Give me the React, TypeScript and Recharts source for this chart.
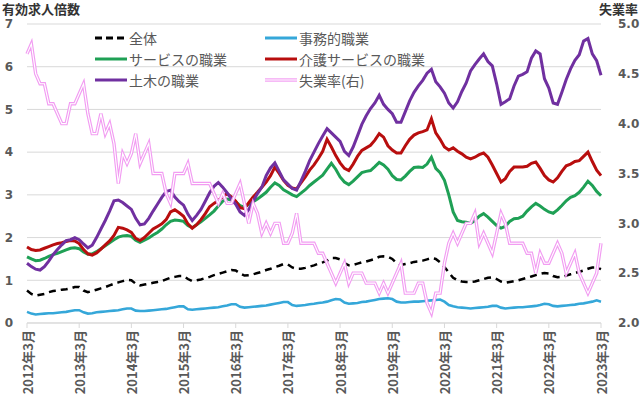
import { CartesianGrid, Line, LineChart, XAxis, YAxis } from "recharts";

const JP = '"Noto Sans CJK JP", "Noto Sans", sans-serif';
const NUM = '"DejaVu Sans", sans-serif';
const GRAY = "#595959";

const START_YEAR = 2012;
const START_MONTH = 3;

// 全体 (2012年3月 .. 2023年3月, monthly)
const TOTAL = [
  0.76, 0.68, 0.64, 0.66, 0.68, 0.72, 0.75, 0.76, 0.78, 0.79, 0.81, 0.84,
  0.84, 0.76, 0.72, 0.75, 0.78, 0.81, 0.84, 0.88, 0.92, 0.95, 0.98, 1.01,
  1.0, 0.92, 0.88, 0.9, 0.92, 0.94, 0.96, 0.98, 1.02, 1.06, 1.08, 1.1,
  1.1, 1.03, 0.98, 1.0, 1.02, 1.05, 1.08, 1.12, 1.15, 1.18, 1.21, 1.24,
  1.23, 1.16, 1.11, 1.12, 1.14, 1.17, 1.2, 1.24, 1.27, 1.31, 1.34, 1.38,
  1.37, 1.3, 1.27, 1.27, 1.29, 1.32, 1.35, 1.39, 1.42, 1.46, 1.52, 1.52,
  1.49, 1.4, 1.35, 1.36, 1.39, 1.42, 1.44, 1.47, 1.5, 1.55, 1.56, 1.55,
  1.5, 1.4, 1.36, 1.38, 1.4, 1.43, 1.44, 1.46, 1.49, 1.52, 1.5, 1.42,
  1.31, 1.18, 1.06, 1.0, 0.97, 0.96, 0.96, 0.97, 1.0, 1.03, 1.06, 1.07,
  1.03, 0.97, 0.94, 0.96, 0.98, 1.0, 1.03, 1.06, 1.09, 1.12, 1.15, 1.17,
  1.16, 1.1, 1.07, 1.08, 1.11, 1.14, 1.17, 1.2, 1.23, 1.27, 1.3, 1.3,
  1.26,
];

// 事務的職業
const CLERICAL = [
  0.26, 0.22, 0.2, 0.21, 0.22, 0.23, 0.23, 0.24, 0.25, 0.26, 0.28, 0.3,
  0.3, 0.25, 0.22, 0.23, 0.25, 0.26, 0.27, 0.28, 0.29, 0.3, 0.32, 0.34,
  0.34, 0.29, 0.28, 0.28, 0.29, 0.3, 0.31, 0.32, 0.33, 0.35, 0.37, 0.39,
  0.39, 0.32, 0.31, 0.32, 0.33, 0.34, 0.35, 0.36, 0.37, 0.39, 0.41, 0.44,
  0.44, 0.38, 0.36, 0.37, 0.38, 0.39, 0.4, 0.41, 0.43, 0.45, 0.47, 0.49,
  0.49, 0.42, 0.4, 0.41, 0.42, 0.44, 0.45, 0.47, 0.48, 0.5, 0.53, 0.56,
  0.55, 0.48, 0.45, 0.46, 0.47, 0.49, 0.5, 0.52, 0.54, 0.56, 0.57, 0.58,
  0.56, 0.5, 0.48, 0.48, 0.49, 0.5, 0.5, 0.51, 0.52, 0.53, 0.54, 0.55,
  0.5, 0.42, 0.39, 0.37, 0.36, 0.35, 0.34, 0.35, 0.36, 0.37, 0.38, 0.4,
  0.4, 0.36, 0.34, 0.35, 0.36, 0.37, 0.37, 0.38, 0.39, 0.4, 0.42, 0.45,
  0.44, 0.4, 0.39, 0.4, 0.41, 0.42, 0.43, 0.45, 0.46, 0.48, 0.5, 0.53,
  0.5,
];

// サービスの職業
const SERVICE = [
  1.55, 1.5, 1.46, 1.47, 1.51, 1.56, 1.6, 1.63, 1.67, 1.71, 1.75, 1.76,
  1.74, 1.66, 1.61, 1.62, 1.67, 1.74, 1.81, 1.88, 1.95, 2.01, 2.04, 2.05,
  2.03, 1.94, 1.89, 1.94, 1.99, 2.06, 2.12, 2.2, 2.3, 2.38, 2.41, 2.4,
  2.38, 2.28, 2.23, 2.3, 2.37, 2.45, 2.53, 2.62, 2.74, 2.85, 2.9, 2.88,
  2.84, 2.75, 2.71, 2.78, 2.84, 2.9, 2.98, 3.06, 3.18, 3.28, 3.22, 3.12,
  3.06, 3.0, 2.96, 3.04, 3.12, 3.22, 3.3, 3.38, 3.46, 3.6, 3.74, 3.6,
  3.42, 3.3, 3.24, 3.32, 3.42, 3.52, 3.55, 3.57, 3.66, 3.76, 3.7, 3.6,
  3.45, 3.36, 3.35, 3.44, 3.55, 3.64, 3.65, 3.64, 3.72, 3.88, 3.62, 3.52,
  3.34, 3.0, 2.6, 2.4, 2.37, 2.36, 2.33, 2.4, 2.5, 2.56, 2.48, 2.38,
  2.28, 2.22, 2.26, 2.38, 2.44, 2.45, 2.5, 2.62, 2.72, 2.8, 2.74, 2.66,
  2.6, 2.57, 2.65, 2.75, 2.86, 2.94, 2.98, 3.06, 3.18, 3.32, 3.22, 3.08,
  2.98,
];

// 介護サービスの職業
const CARE = [
  1.78, 1.72, 1.7, 1.71, 1.75, 1.79, 1.83, 1.86, 1.88, 1.91, 1.93, 1.92,
  1.86, 1.72, 1.62, 1.59, 1.64, 1.73, 1.83, 1.92, 2.05, 2.24, 2.22, 2.18,
  2.12, 1.98, 1.93, 2.0, 2.1, 2.2, 2.26, 2.32, 2.42, 2.6, 2.65, 2.58,
  2.5, 2.32, 2.22, 2.3, 2.42, 2.56, 2.72, 2.8, 2.87, 2.95, 3.03, 2.95,
  2.85, 2.7, 2.68, 2.82, 2.95, 3.06, 3.18, 3.3, 3.45, 3.65, 3.5, 3.34,
  3.22, 3.16, 3.14, 3.28, 3.42, 3.58, 3.7, 3.85, 4.02, 4.3, 4.12, 3.92,
  3.75, 3.62, 3.57, 3.72, 3.9, 4.04, 4.1, 4.16, 4.28, 4.43, 4.35, 4.15,
  4.05, 3.98, 3.98, 4.15, 4.3, 4.4, 4.45, 4.48, 4.52, 4.78, 4.45, 4.3,
  4.12, 4.05, 4.1, 4.02, 3.96, 3.88, 3.84, 3.88, 3.94, 3.98, 3.88, 3.7,
  3.5, 3.3, 3.38, 3.55, 3.65, 3.65, 3.65, 3.67, 3.74, 3.77, 3.62, 3.45,
  3.35, 3.3, 3.4, 3.55, 3.68, 3.72, 3.78, 3.8, 3.9, 4.0, 3.78, 3.58,
  3.45,
];

// 土木の職業
const CIVIL = [
  1.4, 1.32, 1.26, 1.24, 1.32, 1.45, 1.6, 1.72, 1.83, 1.93, 1.95, 2.0,
  1.95, 1.85, 1.76, 1.82, 2.0, 2.2, 2.4, 2.62, 2.86, 2.88, 2.82, 2.74,
  2.66, 2.45, 2.3, 2.32, 2.45, 2.62, 2.78, 2.94, 3.08, 3.11, 2.95, 2.84,
  2.76, 2.55, 2.4, 2.52, 2.66, 2.85, 3.05, 3.2, 3.29, 3.18, 3.05, 2.9,
  2.78, 2.6, 2.52, 2.66, 2.85, 3.03, 3.18, 3.45, 3.63, 3.75, 3.55, 3.35,
  3.25, 3.15, 3.11, 3.32, 3.55, 3.8, 4.0, 4.2, 4.38, 4.55, 4.45, 4.35,
  4.25, 4.02, 3.92, 4.12, 4.38, 4.65, 4.85, 5.02, 5.15, 5.33, 5.12, 5.0,
  4.9, 4.7, 4.7, 4.95, 5.2, 5.4, 5.55, 5.68, 5.85, 5.94, 5.65, 5.53,
  5.38, 5.15, 5.03, 5.18, 5.42, 5.62, 5.9, 6.05, 6.18, 6.3, 6.12, 6.02,
  5.6, 5.12, 5.18, 5.25, 5.55, 5.78, 5.82, 5.88, 6.2, 6.37, 6.3, 5.72,
  5.5, 5.15, 5.12, 5.4, 5.7, 5.95, 6.15, 6.28, 6.6, 6.66, 6.3, 6.14,
  5.8,
];

// 失業率 (右軸)
const UNEMPLOYMENT = [
  4.7, 4.8, 4.5, 4.4, 4.4, 4.2, 4.2, 4.1, 4.0, 4.0, 4.2, 4.2,
  4.3, 4.4, 4.1, 3.9, 3.9, 4.1, 3.9, 4.0, 3.8, 3.4, 3.7, 3.6,
  3.7, 3.9, 3.6, 3.7, 3.8, 3.5, 3.5, 3.5, 3.3, 3.2, 3.5, 3.5,
  3.5, 3.6, 3.4, 3.4, 3.4, 3.4, 3.4, 3.3, 3.2, 3.3, 3.2, 3.2,
  3.3, 3.4, 3.2, 3.0, 3.2, 3.1, 2.9, 3.0, 2.9, 3.0, 3.0, 2.8,
  2.8, 2.9, 3.1, 2.8, 2.8, 2.8, 2.8, 2.7, 2.7, 2.6, 2.5, 2.4,
  2.5, 2.6, 2.4, 2.5, 2.5, 2.5, 2.4, 2.4, 2.4, 2.3, 2.4, 2.3,
  2.4, 2.5, 2.6, 2.3, 2.3, 2.3, 2.4, 2.4, 2.2, 2.1, 2.3, 2.3,
  2.6, 2.8, 2.9, 2.8, 2.9, 3.0, 3.0, 3.1, 2.8, 2.9, 2.8, 2.7,
  2.9, 3.1, 3.0, 2.8, 2.8, 2.8, 2.8, 2.7, 2.7, 2.5, 2.7, 2.6,
  2.6, 2.7, 2.8, 2.7, 2.5, 2.6, 2.7, 2.5, 2.4, 2.3, 2.4, 2.5,
  2.8,
];

const MONTHS = TOTAL.map((_, i) => {
  const m = START_MONTH - 1 + i;
  return `${START_YEAR + Math.floor(m / 12)}年${(m % 12) + 1}月`;
});

const LEFT_TICKS = [0, 1, 2, 3, 4, 5, 6, 7];
const RIGHT_TICKS = [2.0, 2.5, 3.0, 3.5, 4.0, 4.5, 5.0];

const data = MONTHS.map((month, i) => ({
  month,
  total: TOTAL[i],
  clerical: CLERICAL[i],
  service: SERVICE[i],
  care: CARE[i],
  civil: CIVIL[i],
  unemployment: UNEMPLOYMENT[i],
}));

const COLORS = {
  total: "#000000",
  clerical: "#35A7D9",
  service: "#1FA055",
  care: "#B80E0E",
  civil: "#7030A0",
  unemployment: "#F29CF2",
};

function MonthTick({ x, y, payload }: any) {
  return (
    <text
      x={x}
      y={y}
      transform={`rotate(-90, ${x}, ${y})`}
      textAnchor="end"
      dominantBaseline="central"
      fill={GRAY}
      fontSize={13}
      fontWeight={700}
      fontFamily={JP}
    >
      {payload.value}
    </text>
  );
}

function LegendItem({
  x,
  y,
  label,
  color,
  dashed,
  double,
}: {
  x: number;
  y: number;
  label: string;
  color: string;
  dashed?: boolean;
  double?: boolean;
}) {
  return (
    <g>
      <line
        x1={x}
        x2={x + 32}
        y1={y}
        y2={y}
        stroke={color}
        strokeWidth={double ? 3.4 : 3}
        strokeDasharray={dashed ? "7 4" : undefined}
      />
      {double && (
        <line x1={x} x2={x + 32} y1={y} y2={y} stroke="#fff" strokeWidth={1.1} />
      )}
      <text
        x={x + 34}
        y={y}
        dominantBaseline="central"
        fill={GRAY}
        fontSize={14}
        fontFamily={JP}
      >
        {label}
      </text>
    </g>
  );
}

export default function App() {
  return (
    <div style={{ position: "relative", width: 640, height: 399, background: "#fff" }}>
      <style>{"body{margin:0}"}</style>
      <LineChart
        width={640}
        height={399}
        data={data}
        margin={{ top: 24, right: 0, bottom: 0, left: 0 }}
      >
        <CartesianGrid yAxisId="left" vertical={false} stroke="#D9D9D9" />
        <XAxis
          dataKey="month"
          interval={11}
          height={76}
          tick={<MonthTick />}
          tickSize={5}
          tickMargin={2}
          tickLine={{ stroke: "#D9D9D9" }}
          axisLine={{ stroke: "#D9D9D9" }}
        />
        <YAxis
          yAxisId="left"
          domain={[0, 7]}
          ticks={LEFT_TICKS}
          width={27}
          axisLine={false}
          tickLine={false}
          tickSize={6}
          tickMargin={8}
          tick={{ fill: GRAY, fontSize: 12, fontWeight: 700, fontFamily: NUM }}
        />
        <YAxis
          yAxisId="right"
          orientation="right"
          domain={[2, 5]}
          ticks={RIGHT_TICKS}
          width={39}
          axisLine={false}
          tickLine={false}
          tickSize={6}
          tickMargin={11}
          tickFormatter={(v: number) => v.toFixed(1)}
          tick={{ fill: GRAY, fontSize: 12, fontWeight: 700, fontFamily: NUM }}
        />
        <Line
          yAxisId="left"
          dataKey="total"
          stroke={COLORS.total}
          strokeWidth={2.5}
          strokeDasharray="7 5"
          dot={false}
          activeDot={false}
          isAnimationActive={false}
        />
        <Line
          yAxisId="left"
          dataKey="clerical"
          stroke={COLORS.clerical}
          strokeWidth={2.6}
          dot={false}
          activeDot={false}
          isAnimationActive={false}
        />
        <Line
          yAxisId="left"
          dataKey="service"
          stroke={COLORS.service}
          strokeWidth={3}
          dot={false}
          activeDot={false}
          isAnimationActive={false}
        />
        <Line
          yAxisId="left"
          dataKey="care"
          stroke={COLORS.care}
          strokeWidth={3}
          dot={false}
          activeDot={false}
          isAnimationActive={false}
        />
        <Line
          yAxisId="left"
          dataKey="civil"
          stroke={COLORS.civil}
          strokeWidth={3}
          dot={false}
          activeDot={false}
          isAnimationActive={false}
        />
        <Line
          yAxisId="right"
          dataKey="unemployment"
          name="失業率(右)"
          stroke={COLORS.unemployment}
          strokeWidth={3.4}
          dot={false}
          activeDot={false}
          isAnimationActive={false}
        />
        <Line
          yAxisId="right"
          dataKey="unemployment"
          name="失業率(右) inner"
          stroke="#ffffff"
          strokeWidth={1.1}
          dot={false}
          activeDot={false}
          isAnimationActive={false}
        />
      </LineChart>
      <svg
        width={640}
        height={399}
        style={{ position: "absolute", left: 0, top: 0, pointerEvents: "none" }}
      >
        <text x={2} y={8} dominantBaseline="central" fontSize={13} fontWeight={700} fill="#333" fontFamily={JP}>
          有効求人倍数
        </text>
        <text x={638} y={8} textAnchor="end" dominantBaseline="central" fontSize={13} fontWeight={700} fill="#333" fontFamily={JP}>
          失業率
        </text>
        <LegendItem x={95} y={38} label="全体" color={COLORS.total} dashed />
        <LegendItem x={95} y={59} label="サービスの職業" color={COLORS.service} />
        <LegendItem x={95} y={80} label="土木の職業" color={COLORS.civil} />
        <LegendItem x={265} y={38} label="事務的職業" color={COLORS.clerical} />
        <LegendItem x={265} y={59} label="介護サービスの職業" color={COLORS.care} />
        <LegendItem x={265} y={80} label="失業率(右)" color={COLORS.unemployment} double />
      </svg>
    </div>
  );
}
